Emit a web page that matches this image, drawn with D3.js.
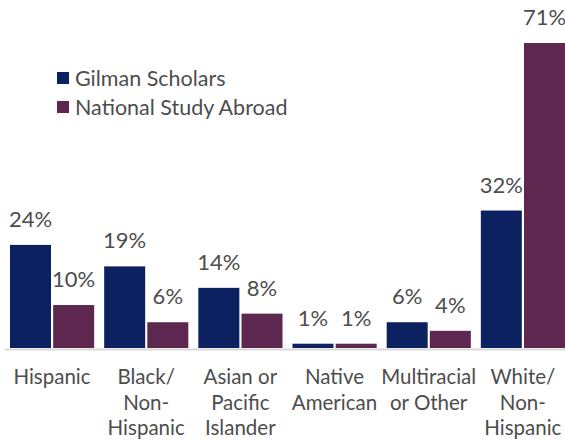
<!DOCTYPE html>
<html>
<head>
<meta charset="utf-8">
<script src="https://cdn.jsdelivr.net/npm/d3@7"></script>
<style>
  body { margin: 0; background: #fff; }
  text { font-family: Lato, "Open Sans", sans-serif; fill: #4d4d4d; }
</style>
</head>
<body>
<div id="drawing"></div>
<script>
var width = 565;
var height = 440;

var categories = ["Hispanic", "Black/Non-Hispanic", "Asian or Pacific Islander", "Native American", "Multiracial or Other", "White/Non-Hispanic"];
var categoryLines = [["Hispanic"], ["Black/", "Non-", "Hispanic"], ["Asian or", "Pacific", "Islander"], ["Native", "American"], ["Multiracial", "or Other"], ["White/", "Non-", "Hispanic"]];
var seriesNames = ["Gilman Scholars", "National Study Abroad"];
var gilman = [24, 19, 14, 1, 6, 32];
var national = [10, 6, 8, 1, 4, 71];
var colors = ["#0c2260", "#5e2750"];

var baseline = 348;

var drawing = d3.select("#drawing").append("svg")
  .attr("width", width)
  .attr("height", height);

var x0 = d3.scaleBand().domain(categories).range([0, width]);
var x1 = d3.scaleBand().domain(seriesNames).range([10, x0.bandwidth()]).paddingInner(0.05);
var y = d3.scaleLinear().domain([0, 71]).range([baseline, 43]);

var rows = categories.map(function(c, i) {
  return {cat: c, lines: categoryLines[i], values: [gilman[i], national[i]]};
});

// axis line
drawing.append("line")
  .attr("x1", 5).attr("x2", width)
  .attr("y1", baseline + 1.5).attr("y2", baseline + 1.5)
  .style("stroke", "#d9d9d9")
  .style("stroke-width", 2);

var groups = drawing.selectAll("g.group")
  .data(rows)
  .enter().append("g")
  .attr("class", "group")
  .attr("transform", function(d) { return "translate(" + x0(d.cat) + ",0)"; });

groups.selectAll("rect")
  .data(function(d) { return d.values.map(function(v, j) { return {s: seriesNames[j], v: v, j: j}; }); })
  .enter().append("rect")
  .attr("x", function(d) { return x1(d.s); })
  .attr("y", function(d) { return y(d.v); })
  .attr("width", x1.bandwidth())
  .attr("height", function(d) { return baseline - y(d.v); })
  .style("fill", function(d) { return colors[d.j]; });

groups.selectAll("text.val")
  .data(function(d) { return d.values.map(function(v, j) { return {s: seriesNames[j], v: v}; }); })
  .enter().append("text")
  .attr("class", "val")
  .attr("x", function(d) { return x1(d.s) + x1.bandwidth() / 2; })
  .attr("y", function(d) { return y(d.v) - 18; })
  .attr("text-anchor", "middle")
  .style("font-size", "22px")
  .text(function(d) { return d.v + "%"; });

groups.append("text")
  .attr("class", "cat")
  .attr("text-anchor", "middle")
  .style("font-size", "20.5px")
  .selectAll("tspan")
  .data(function(d) { return d.lines; })
  .enter().append("tspan")
  .attr("x", 52)
  .attr("y", function(d, i) { return 384 + i * 25.5; })
  .text(function(d) { return d; });

// legend
var legend = drawing.selectAll("g.legend")
  .data(seriesNames)
  .enter().append("g")
  .attr("class", "legend")
  .attr("transform", function(d, i) { return "translate(57," + (72 + i * 29) + ")"; });

legend.append("rect")
  .attr("width", 12).attr("height", 12)
  .style("fill", function(d, i) { return colors[i]; });

legend.append("text")
  .attr("x", 18)
  .attr("y", 14)
  .style("font-size", "21.5px")
  .text(function(d) { return d; });
</script>
</body>
</html>
